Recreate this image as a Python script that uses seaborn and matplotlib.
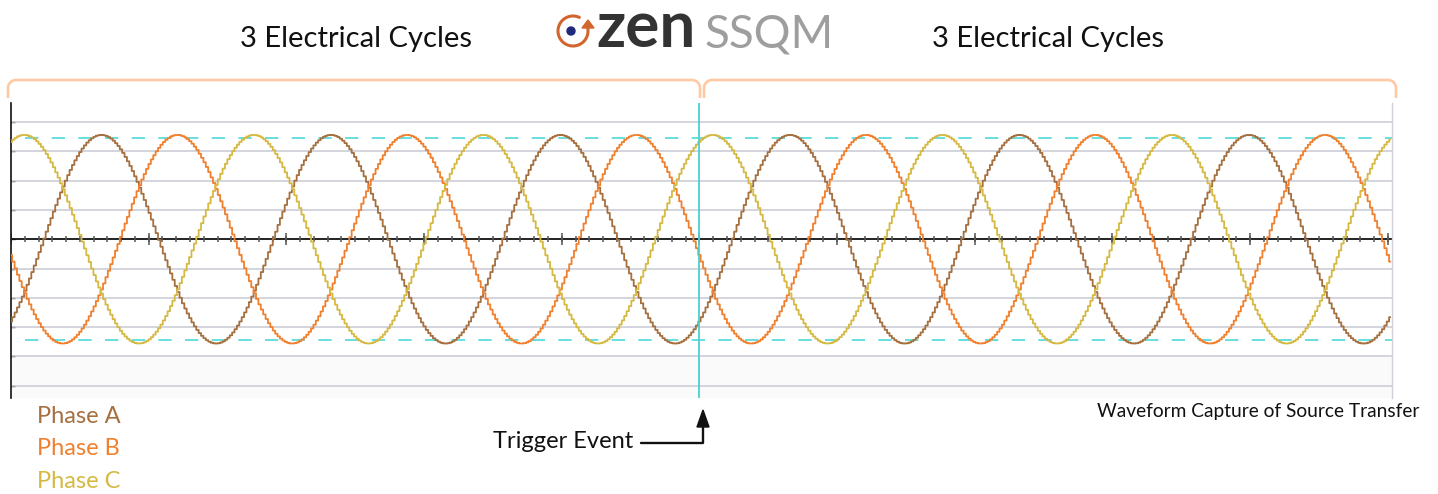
import numpy as np
import pandas as pd
import matplotlib
matplotlib.use("Agg")
import matplotlib.pyplot as plt
import seaborn as sns
from matplotlib.patches import Circle, Polygon

# ---------------- data ----------------
PHASES = ["Phase A", "Phase B", "Phase C"]
PHASE_COLORS = ["#A56F3F", "#F0802E", "#D5B942"]
PEAK_AMPLITUDE = 3.56            # in grid divisions
PEAK_TIMES_MS = [6.58, 12.10, 0.98]   # time of a positive peak per phase (ms)
CYCLE_MS = 16.667                # one electrical cycle (60 Hz)
TIME_START_MS = -50.0
TIME_END_MS = 50.3
SAMPLES_PER_CYCLE = 96
TRIGGER_MS = 0.0
DASH_LEVEL = 3.445
GRID_LEVELS = [-5, -4, -3, -2, -1, 0, 1, 2, 3, 4]
MINOR_TICKS_MS = list(range(-50, 51, 1))
MAJOR_TICKS_MS = list(range(-50, 51, 10))
HEADINGS = ["3 Electrical Cycles", "3 Electrical Cycles"]
CAPTION = "Waveform Capture of Source Transfer"
TRIGGER_LABEL = "Trigger Event"
LOGO_WORDS = ["zen", "SSQM"]

# ---------------- style ----------------
sns.set_theme(style="white")
plt.rcParams["font.family"] = ["Lato", "DejaVu Sans"]

W, H = 1438, 494
fig = plt.figure(figsize=(W / 100, H / 100), dpi=100)
fig.patch.set_facecolor("white")


def fx(px):
    return px / W


def fy(py):
    return 1 - py / H


ax = fig.add_axes([fx(11), fy(398), fx(1392) - fx(11), fy(103) - fy(398)])
ax.set_facecolor("white")

# build long-form table
t = np.arange(TIME_START_MS, TIME_END_MS, CYCLE_MS / SAMPLES_PER_CYCLE)
frames = []
for name, tp in zip(PHASES, PEAK_TIMES_MS):
    v = PEAK_AMPLITUDE * np.cos(2 * np.pi * (t - tp) / CYCLE_MS)
    frames.append(pd.DataFrame({"t": t, "v": v, "phase": name}))
df = pd.concat(frames, ignore_index=True)

# background band and grid
ax.axhspan(-5.6, -4, color="#FAFAFA", zorder=0, lw=0)
for g in GRID_LEVELS:
    if g != 0:
        ax.axhline(g, color="#C9C9D3", lw=1.1, zorder=1)

sns.lineplot(data=df, x="t", y="v", hue="phase", hue_order=PHASES,
             palette=PHASE_COLORS, estimator=None, drawstyle="steps-mid",
             lw=1.3, legend=False, ax=ax, zorder=3)

# zero axis with ticks
ax.axhline(0, color="#111111", lw=1.3, zorder=2)
ax.plot(MINOR_TICKS_MS, np.zeros(len(MINOR_TICKS_MS)), ls="none", marker="|",
        ms=4.5, mew=1.1, color="#555555", zorder=2)
ax.plot(MAJOR_TICKS_MS, np.zeros(len(MAJOR_TICKS_MS)), ls="none", marker="|",
        ms=9, mew=1.1, color="#555555", zorder=2)

# dashed limit lines and trigger line
ax.hlines([DASH_LEVEL, -DASH_LEVEL], -49, TIME_END_MS, colors="#4FD8D8",
          lw=1.2, linestyles=(0, (8, 8)), zorder=2)
ax.axvline(TRIGGER_MS, color="#48D1D1", lw=1.3, zorder=4)

ax.set_xlim(TIME_START_MS, TIME_END_MS)
ax.set_ylim(-5.42, 4.65)
ax.set_xticks([])
ax.set_yticks(GRID_LEVELS)
ax.tick_params(axis="y", direction="in", length=3, width=1, color="#333333",
               labelleft=False, left=True)
ax.set_xlabel("")
ax.set_ylabel("")
for s in ["top", "bottom"]:
    ax.spines[s].set_visible(False)
ax.spines["left"].set_color("#111111")
ax.spines["left"].set_linewidth(1.2)
ax.spines["right"].set_color("#D0D0D8")
ax.spines["right"].set_linewidth(1.0)

# ---------------- overlay in pixel coordinates ----------------
ov = fig.add_axes([0, 0, 1, 1])
ov.set_xlim(0, W)
ov.set_ylim(H, 0)
ov.axis("off")
ov.patch.set_alpha(0)


def bracket(x0, x1, ytop, ybot, r):
    a1 = np.linspace(np.pi, np.pi / 2, 20)
    a2 = np.linspace(np.pi / 2, 0, 20)
    xs = [x0] + list(x0 + r + r * np.cos(a1)) + list(x1 - r + r * np.cos(a2)) + [x1]
    ys = [ybot] + list(ytop + r - r * np.sin(a1)) + list(ytop + r - r * np.sin(a2)) + [ybot]
    return xs, ys


for x0, x1 in [(8, 700), (704, 1396)]:
    xs, ys = bracket(x0, x1, 80, 98, 8)
    ov.plot(xs, ys, color="#FFC9A3", lw=1.9, solid_capstyle="butt")

# headings
ov.text(356, 39, HEADINGS[0], ha="center", va="center", fontsize=21, color="#111111")
ov.text(1048, 39, HEADINGS[1], ha="center", va="center", fontsize=21, color="#111111")

# logo
ang = np.linspace(np.deg2rad(65), np.deg2rad(370), 60)
cx, cy, r = 573, 31, 15
ov.plot(cx + r * np.cos(ang), cy - r * np.sin(ang), color="#D2652E", lw=2.2)
ov.add_patch(Polygon([(582, 28), (594, 28), (588, 20)], closed=True, color="#D2652E"))
ov.add_patch(Circle((571, 31), 4, color="#1F2B7A"))
ov.text(596, 47, LOGO_WORDS[0], ha="left", va="baseline", fontsize=46,
        fontweight="bold", color="#333333")
ov.text(705, 47, LOGO_WORDS[1], ha="left", va="baseline", fontsize=33,
        fontweight="normal", color="#9E9E9E")

# legend texts
for i, (name, col) in enumerate(zip(PHASES, PHASE_COLORS)):
    ov.text(37, 416 + 32.5 * i, name, ha="left", va="center", fontsize=17, color=col)

# trigger annotation
ov.text(493, 441, TRIGGER_LABEL, ha="left", va="center", fontsize=17, color="#111111")
ov.plot([641, 703, 703], [442.5, 442.5, 425], color="#111111", lw=1.7)
ov.add_patch(Polygon([(697, 427), (709, 427), (703, 410)], closed=True, color="#111111"))

# caption
ov.text(1097, 411, CAPTION, ha="left", va="center", fontsize=13.8, color="#111111")

fig.savefig("out.png", dpi=100)
